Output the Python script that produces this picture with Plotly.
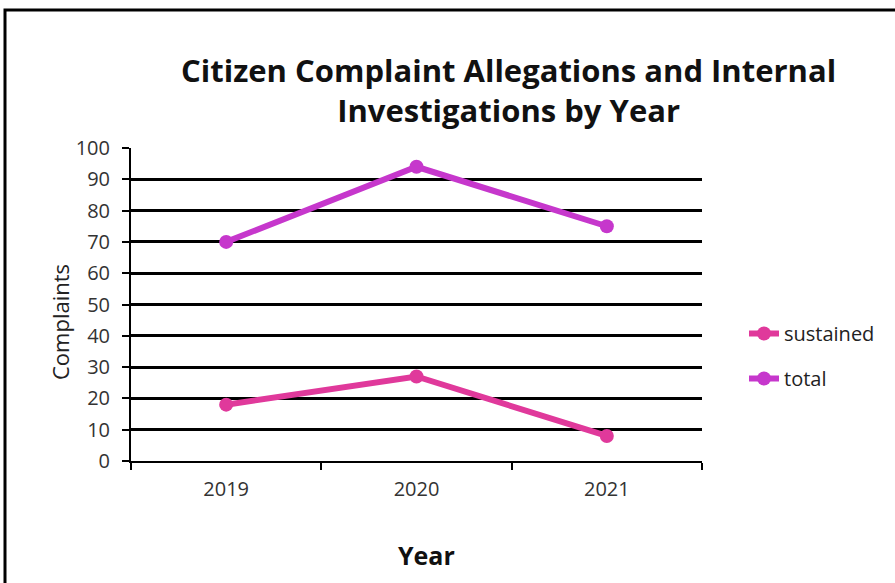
import plotly.graph_objects as go

years = ["2019", "2020", "2021"]
sustained = [18, 27, 8]
total = [70, 94, 75]
y_ticks = [0, 10, 20, 30, 40, 50, 60, 70, 80, 90, 100]

FONT = "Open Sans"
W, H = 895, 583
PX0, PX1, PY0, PY1 = 131, 702, 148, 461  # plot area in page pixels
ML, MT = PX0, PY0
PW, PH = PX1 - PX0, PY1 - PY0
MR, MB = W - ML - PW, H - MT - PH

def px_x(p):
    return (p - PX0) / PW

def px_y(p):
    return (PY1 - p) / PH

fig = go.Figure()
fig.add_trace(go.Scatter(
    x=years, y=sustained, name="sustained", mode="lines+markers", legendgroup="a",
    line=dict(color="#E0399B", width=6), marker=dict(size=14, color="#E0399B"),
))
fig.add_trace(go.Scatter(
    x=years, y=total, name="total", mode="lines+markers", legendgroup="b",
    line=dict(color="#C637CC", width=6), marker=dict(size=14, color="#C637CC"),
))

fig.update_layout(
    width=W, height=H,
    margin=dict(l=ML, r=MR, t=MT, b=MB, pad=0),
    paper_bgcolor="white", plot_bgcolor="white",
    font=dict(family=FONT, color="#404040"),
    showlegend=True,
    legend=dict(
        x=px_x(744), y=px_y(314), xanchor="left", yanchor="top",
        font=dict(size=20, color="#222222", family=FONT),
        tracegroupgap=16, itemwidth=30, bgcolor="rgba(0,0,0,0)",
    ),
    xaxis=dict(
        type="category", range=[-0.5, 2.5],
        showgrid=False, showline=True, linecolor="black", linewidth=2,
        ticks="outside", tickson="boundaries", ticklen=7, tickwidth=2, tickcolor="black",
        tickfont=dict(size=20, color="#333333", family=FONT),
        ticklabelstandoff=9,
        zeroline=False, fixedrange=True,
    ),
    yaxis=dict(
        range=[0, 100], tickvals=y_ticks,
        showgrid=True, gridcolor="black", gridwidth=3,
        showline=True, linecolor="black", linewidth=2,
        ticks="outside", ticklen=7, tickwidth=2, tickcolor="black",
        tickfont=dict(size=20, color="#333333", family=FONT),
        ticklabelstandoff=8,
        zeroline=False, fixedrange=True,
    ),
    annotations=[
        dict(
            text="<b>Citizen Complaint Allegations and Internal<br>Investigations by Year</b>",
            x=px_x(508), y=px_y(90), xref="paper", yref="paper",
            xanchor="center", yanchor="middle", showarrow=False,
            font=dict(size=31, color="#111111", family=FONT), align="center",
        ),
        dict(
            text="Complaints", textangle=-90,
            x=px_x(60), y=px_y(322), xref="paper", yref="paper",
            xanchor="center", yanchor="middle", showarrow=False,
            font=dict(size=22, color="#222222", family=FONT),
        ),
        dict(
            text="<b>Year</b>",
            x=px_x(427), y=px_y(555), xref="paper", yref="paper",
            xanchor="center", yanchor="middle", showarrow=False,
            font=dict(size=25, color="#111111", family=FONT),
        ),
    ],
    shapes=[
        dict(
            type="rect", xref="paper", yref="paper",
            x0=px_x(5), x1=px_x(905), y0=px_y(595), y1=px_y(10),
            line=dict(color="black", width=3), fillcolor="rgba(0,0,0,0)", layer="below",
        )
    ],
)

fig.write_html("out.html", config={"displayModeBar": False},
               post_script="document.body.style.margin='0px';")
